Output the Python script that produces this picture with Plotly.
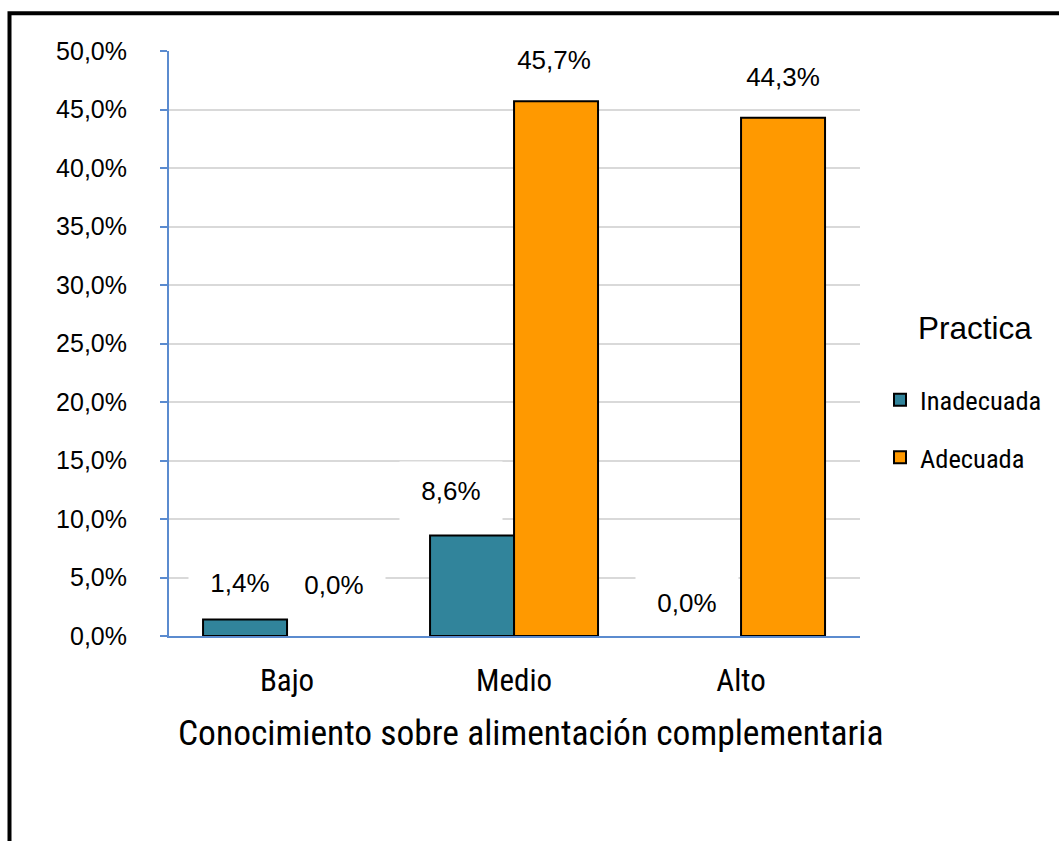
import plotly.graph_objects as go

# Knowledge level categories and practice percentages (as fractions)
niveles = ["Bajo", "Medio", "Alto"]
inadecuada = [0.014, 0.086, 0.000]
adecuada = [0.000, 0.457, 0.443]
series_names = ["Inadecuada", "Adecuada"]

eje_x_titulo = "Conocimiento sobre alimentación complementaria"
leyenda_titulo = "Practica"

# Styling
COL_INAD = "#31849b"
COL_ADEC = "#ff9900"
AXIS_BLUE = "#5b8bcf"
GRID = "#d9d9d9"
NARROW = "Roboto Condensed, Liberation Sans, sans-serif"
REGULAR = "Liberation Sans, Arial, sans-serif"
BARGAP = 0.26

# label offsets in pixels (dx, dy above bar top) for each series / category
off_inad = [(-5, 37), (-21, 44), (-12, 33)]
off_adec = [(5, 51), (-2, 41), (0, 41)]

# plot area in pixels
PL, PR, PT, PB = 169, 860, 51, 636


def px_x(v):
    return (v - PL) / (PR - PL)


def px_y(v):
    return (PB - v) / (PB - PT)


fig = go.Figure()
for name, vals, col in [(series_names[0], inadecuada, COL_INAD),
                        (series_names[1], adecuada, COL_ADEC)]:
    fig.add_trace(go.Bar(
        x=niveles, y=vals, name=name, legendgroup=name,
        marker=dict(color=col,
                    line=dict(color="black", width=[2 if v > 0 else 0 for v in vals])),
    ))

annotations = []
half = (1 - BARGAP) / 4
for vals, offs, sign in [(inadecuada, off_inad, -1), (adecuada, off_adec, 1)]:
    for i, v in enumerate(vals):
        dx, dy = offs[i]
        annotations.append(dict(
            x=i + sign * half, y=v, xref="x", yref="y",
            text=f"{v*100:.1f}%".replace(".", ","),
            showarrow=False, xshift=dx, yshift=dy,
            yanchor="middle", xanchor="center",
            width=100, height=56, bgcolor="white",
            font=dict(family=REGULAR, size=26, color="black"),
        ))

annotations.append(dict(
    x=px_x(531), y=px_y(733), xref="paper", yref="paper", text=eje_x_titulo,
    xanchor="center", yanchor="middle",
    showarrow=False, font=dict(family=NARROW, size=35.5, color="black"),
))
annotations.append(dict(
    x=px_x(975), y=px_y(328), xref="paper", yref="paper", text=leyenda_titulo,
    xanchor="center", yanchor="middle",
    showarrow=False, font=dict(family=REGULAR, size=31.5, color="black"),
))

fig.update_layout(
    width=1059, height=841,
    margin=dict(l=PL, r=1059 - PR, t=PT, b=841 - PB),
    paper_bgcolor="white", plot_bgcolor="white",
    separators=",.",
    barmode="group", bargap=BARGAP, bargroupgap=0,
    annotations=annotations,
    showlegend=True,
    legend=dict(
        x=px_x(880), xanchor="left",
        y=px_y(376), yanchor="top",
        font=dict(family=NARROW, size=26.5, color="black"),
        tracegroupgap=20, itemsizing="constant",
        bgcolor="rgba(0,0,0,0)",
    ),
    shapes=[dict(
        type="rect", xref="paper", yref="paper",
        x0=px_x(9.5), x1=px_x(1075),
        y0=px_y(860), y1=px_y(13.3),
        line=dict(color="black", width=4), fillcolor="rgba(0,0,0,0)",
        layer="above",
    )],
)

fig.update_xaxes(
    type="category", range=[-0.52, 2.524],
    showline=True, linecolor=AXIS_BLUE, linewidth=2,
    showgrid=False, ticks="", ticklabelstandoff=16,
    tickfont=dict(family=NARROW, size=31, color="black"),
)
fig.update_yaxes(
    range=[0, 0.5], dtick=0.05, tick0=0, tickformat=".1%",
    showline=True, linecolor=AXIS_BLUE, linewidth=2,
    ticks="outside", ticklen=7, tickwidth=2, tickcolor=AXIS_BLUE,
    showgrid=True, gridcolor=GRID, gridwidth=2, zeroline=False,
    ticklabelstandoff=28,
    tickfont=dict(family=REGULAR, size=25, color="black"),
)

fig.write_html("out.html")
